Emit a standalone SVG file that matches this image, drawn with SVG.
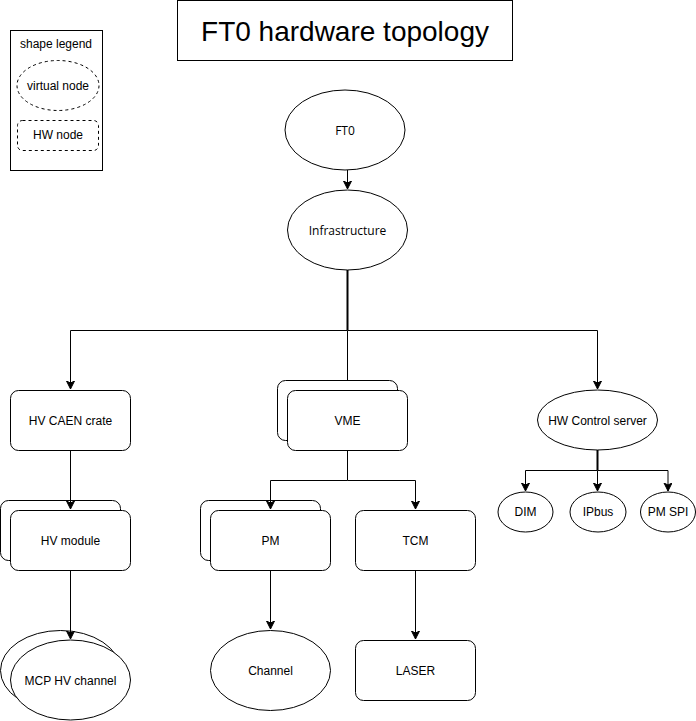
<svg xmlns="http://www.w3.org/2000/svg" width="696" height="721" viewBox="0 0 696 721">
<style>
.s{fill:#fff;stroke:#000;stroke-width:1}
.d{fill:#fff;stroke:#000;stroke-width:1;stroke-dasharray:3 3}
.t{font-family:"Liberation Sans",Arial,sans-serif;font-size:12px;fill:#000;text-anchor:middle;dominant-baseline:central}
.o{font-family:"Open Sans","Liberation Sans",sans-serif;font-size:12px;fill:#000;text-anchor:middle;dominant-baseline:central}
.c{fill:none;stroke:#000;stroke-width:1}
.b{fill:none;stroke:#000;stroke-width:2}
</style>
<defs>
<marker id="a" markerUnits="userSpaceOnUse" markerWidth="10" markerHeight="10" refX="8" refY="4" orient="auto">
<path d="M0,0 L8,4 L0,8 L2,4 Z" fill="#000" stroke="#000" stroke-width="1"/>
</marker>
</defs>
<rect width="696" height="721" fill="#fff"/>
<g id="title">
<rect class="s" x="177.5" y="0.5" width="335" height="60"/>
<text x="345" y="31" font-family="Liberation Sans,Arial,sans-serif" font-size="28" text-anchor="middle" dominant-baseline="central">FT0 hardware topology</text>
</g>
<g id="legend">
<rect class="s" x="10.5" y="30.5" width="92" height="140"/>
<text class="t" x="56" y="44">shape legend</text>
<ellipse class="d" cx="58" cy="85.5" rx="41" ry="25"/>
<text class="t" x="58" y="86">virtual node</text>
<rect class="d" x="17.5" y="120.5" width="81" height="30" rx="5"/>
<text class="t" x="58" y="135">HW node</text>
</g>
<g id="connectors">
<path class="c" d="M347.5 170 V189" marker-end="url(#a)"/>
<path class="b" d="M347.5 270 V330"/>
<path class="c" d="M347.5 330.5 H70.5 V389" marker-end="url(#a)"/>
<path class="c" d="M347.5 330.5 V389" marker-end="url(#a)"/>
<path class="c" d="M347.5 330.5 H597.5 V389" marker-end="url(#a)"/>
</g>
<g id="ft0">
<ellipse class="s" cx="345" cy="130" rx="60" ry="40"/>
<text class="o" x="345" y="130">FT0</text>
</g>
<g id="infrastructure">
<ellipse class="s" cx="347.5" cy="230" rx="60" ry="40"/>
<text class="o" x="347.5" y="230">Infrastructure</text>
</g>
<g id="hv-caen-crate">
<rect class="s" x="10.5" y="390.5" width="120" height="60" rx="8"/>
<text class="t" x="70.5" y="420.5">HV CAEN crate</text>
</g>
<g id="hv-module">
<rect class="s" x="0.5" y="500.5" width="120" height="60" rx="8"/>
<rect class="s" x="10.5" y="510.5" width="120" height="60" rx="8"/>
<text class="t" x="70.5" y="540.5">HV module</text>
</g>
<g id="mcp-hv-channel">
<ellipse class="s" cx="60.5" cy="670.5" rx="60" ry="40"/>
<ellipse class="s" cx="70.5" cy="680" rx="60" ry="40"/>
<text class="t" x="70.5" y="680.5">MCP HV channel</text>
</g>
<g id="vme">
<rect class="s" x="277.5" y="380.5" width="120" height="60" rx="8"/>
<rect class="s" x="287.5" y="390.5" width="120" height="60" rx="8"/>
<text class="t" x="347.5" y="420.5">VME</text>
</g>
<g id="pm">
<rect class="s" x="200.5" y="500.5" width="120" height="60" rx="8"/>
<rect class="s" x="210.5" y="510.5" width="120" height="60" rx="8"/>
<text class="t" x="270.5" y="540.5">PM</text>
</g>
<g id="tcm">
<rect class="s" x="355.5" y="510.5" width="120" height="60" rx="8"/>
<text class="t" x="415.5" y="540.5">TCM</text>
</g>
<g id="channel">
<ellipse class="s" cx="270.5" cy="670.5" rx="60" ry="40"/>
<text class="t" x="270.5" y="670.5">Channel</text>
</g>
<g id="laser">
<rect class="s" x="355.5" y="640.5" width="120" height="60" rx="8"/>
<text class="t" x="415.5" y="670.5">LASER</text>
</g>
<g id="hw-control-server">
<ellipse class="s" cx="597.5" cy="420" rx="60" ry="30"/>
<text class="t" x="597.5" y="420.5">HW Control server</text>
</g>
<g id="dim">
<ellipse class="s" cx="525.5" cy="512" rx="27.5" ry="20"/>
<text class="t" x="525.5" y="512">DIM</text>
</g>
<g id="ipbus">
<ellipse class="s" cx="598" cy="512" rx="28" ry="20"/>
<text class="t" x="598" y="512">IPbus</text>
</g>
<g id="pm-spi">
<ellipse class="s" cx="668" cy="512" rx="27.5" ry="20"/>
<text class="t" x="668" y="512">PM SPI</text>
</g>
<g id="connectors-lower">
<path class="c" d="M70.5 450.5 V509" marker-end="url(#a)"/>
<path class="c" d="M70.5 570.5 V639" marker-end="url(#a)"/>
<path class="c" d="M347.5 450.5 V480.5 H270.5 V509" marker-end="url(#a)"/>
<path class="c" d="M347.5 480.5 H415.5 V509" marker-end="url(#a)"/>
<path class="c" d="M270.5 570.5 V629" marker-end="url(#a)"/>
<path class="c" d="M415.5 570.5 V639" marker-end="url(#a)"/>
<path class="b" d="M597.5 450 V470"/>
<path class="c" d="M597.5 470.5 H525.5 V491" marker-end="url(#a)"/>
<path class="c" d="M597.5 470.5 V491" marker-end="url(#a)"/>
<path class="c" d="M597.5 470.5 H668 V491" marker-end="url(#a)"/>
</g>
</svg>
